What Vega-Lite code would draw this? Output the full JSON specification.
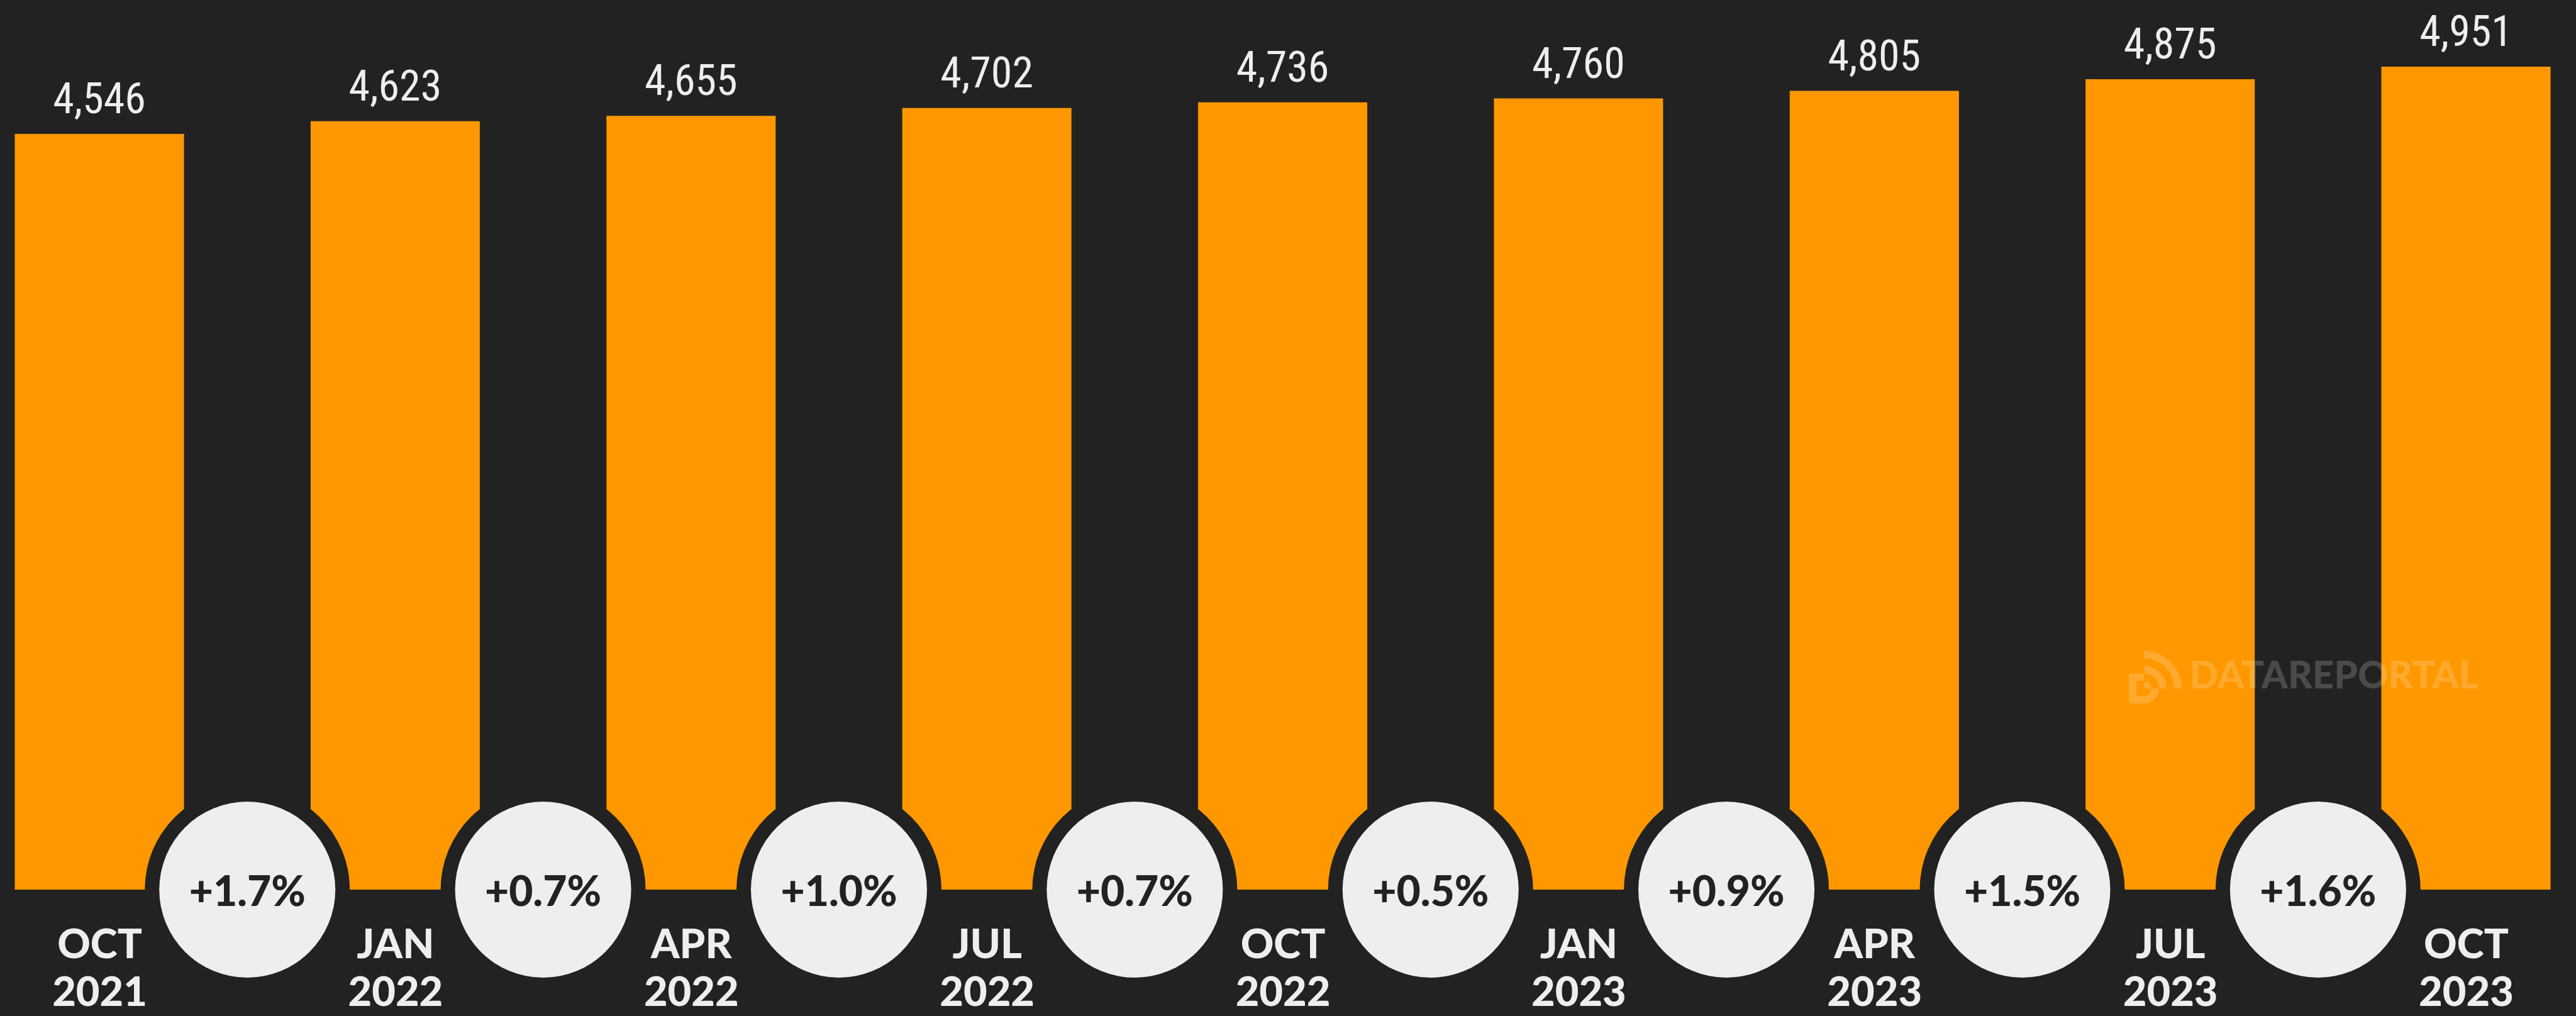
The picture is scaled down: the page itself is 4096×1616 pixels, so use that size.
{
"$schema":"https://vega.github.io/schema/vega-lite/v6.json",
"width":4096,"height":1415,
"autosize":{"type":"none"},
"padding":{"left":0,"top":0,"right":0,"bottom":201},
"background":"#222222",
"config":{"view":{"stroke":null}},
"datasets":{
"quarters":[
{"i":0,"period":"OCT 2021","users":4546,"label":"4,546"},
{"i":1,"period":"JAN 2022","users":4623,"label":"4,623"},
{"i":2,"period":"APR 2022","users":4655,"label":"4,655"},
{"i":3,"period":"JUL 2022","users":4702,"label":"4,702"},
{"i":4,"period":"OCT 2022","users":4736,"label":"4,736"},
{"i":5,"period":"JAN 2023","users":4760,"label":"4,760"},
{"i":6,"period":"APR 2023","users":4805,"label":"4,805"},
{"i":7,"period":"JUL 2023","users":4875,"label":"4,875"},
{"i":8,"period":"OCT 2023","users":4951,"label":"4,951"}],
"changes":[
{"mid":0.5,"base":0,"change":"+1.7%"},
{"mid":1.5,"base":0,"change":"+0.7%"},
{"mid":2.5,"base":0,"change":"+1.0%"},
{"mid":3.5,"base":0,"change":"+0.7%"},
{"mid":4.5,"base":0,"change":"+0.5%"},
{"mid":5.5,"base":0,"change":"+0.9%"},
{"mid":6.5,"base":0,"change":"+1.5%"},
{"mid":7.5,"base":0,"change":"+1.6%"}],
"brand":[{"x":7.066,"y":1210,"lx":6.95,"ly":1278,"name":"DATAREPORTAL"}]
},
"layer":[
{"data":{"name":"quarters"},
 "mark":{"type":"bar","size":269,"color":"#FF9800"},
 "encoding":{
  "x":{"field":"i","type":"quantitative","scale":{"domain":[-0.336,8.372],"nice":false,"zero":false,"padding":0},
   "axis":{"title":null,"values":[0,1,2,3,4,5,6,7,8],"domain":false,"ticks":false,"grid":false,"labelOverlap":false,"labelBound":false,"labelFlush":false,
    "labelExpr":"split(['OCT 2021','JAN 2022','APR 2022','JUL 2022','OCT 2022','JAN 2023','APR 2023','JUL 2023','OCT 2023'][datum.value],' ')",
    "labelFont":"Lato","labelFontWeight":900,"labelFontSize":65,"labelColor":"#EEEEEE","labelPadding":57,"labelLineHeight":76,"labelBaseline":"top"}},
  "y":{"field":"users","type":"quantitative","scale":{"domain":[0,5352],"nice":false},"axis":null}}},
{"data":{"name":"changes"},
 "mark":{"type":"point","filled":true,"shape":"circle","size":106276,"color":"#222222","opacity":1},
 "encoding":{"x":{"field":"mid","type":"quantitative","scale":{"domain":[-0.336,8.372],"nice":false,"zero":false,"padding":0}},
  "y":{"field":"base","type":"quantitative","axis":null,"scale":{"domain":[0,5352],"nice":false}}}},
{"data":{"name":"changes"},
 "mark":{"type":"point","filled":true,"shape":"circle","size":78400,"color":"#EEEEEE","opacity":1},
 "encoding":{"x":{"field":"mid","type":"quantitative","scale":{"domain":[-0.336,8.372],"nice":false,"zero":false,"padding":0}},
  "y":{"field":"base","type":"quantitative","axis":null,"scale":{"domain":[0,5352],"nice":false}}}},
{"data":{"name":"changes"},
 "mark":{"type":"text","font":"Lato","fontWeight":900,"fontSize":66,"color":"#222222","align":"center","baseline":"alphabetic","dy":26},
 "encoding":{"x":{"field":"mid","type":"quantitative","scale":{"domain":[-0.336,8.372],"nice":false,"zero":false,"padding":0}},
  "y":{"field":"base","type":"quantitative","axis":null,"scale":{"domain":[0,5352],"nice":false}},
  "text":{"field":"change"}}},
{"data":{"name":"quarters"},
 "mark":{"type":"text","font":"Roboto Condensed, Lato","fontSize":68,"color":"#EEEEEE","align":"center","baseline":"alphabetic","dy":-33},
 "encoding":{"x":{"field":"i","type":"quantitative","scale":{"domain":[-0.336,8.372],"nice":false,"zero":false,"padding":0}},
  "y":{"field":"users","type":"quantitative","axis":null,"scale":{"domain":[0,5352],"nice":false}},
  "text":{"field":"label"}}},
{"data":{"name":"brand"},
 "mark":{"type":"text","font":"Lato","fontWeight":900,"fontSize":60,"color":"#FFFFFF","opacity":0.18,"align":"left","baseline":"alphabetic"},
 "encoding":{"x":{"field":"x","type":"quantitative","scale":{"domain":[-0.336,8.372],"nice":false,"zero":false,"padding":0}},
  "y":{"field":"y","type":"quantitative","axis":null,"scale":{"domain":[0,5352],"nice":false}},
  "text":{"field":"name"}}},
{"data":{"name":"brand"},
 "mark":{"type":"point","filled":true,"size":7056,"color":"#FFFFFF","opacity":0.18,
  "shape":"M-.429 -1A1.429 1.429 0 0 1 1 .429H.714A1.143 1.143 0 0 0 -.429 -.714ZM-.429 -.429A.857 .857 0 0 1 .429 .429H.143A.571 .571 0 0 0 -.429 -.143ZM-.429 .143A.286 .286 0 0 1 -.143 .429H-.429ZM-1 -.143H-.429V.143H-.714V.714H-.429A.286 .286 0 0 0 -.143 .429H.143A.571 .571 0 0 1 -.429 1H-1Z"},
 "encoding":{"x":{"field":"lx","type":"quantitative","scale":{"domain":[-0.336,8.372],"nice":false,"zero":false,"padding":0}},
  "y":{"field":"ly","type":"quantitative","axis":null,"scale":{"domain":[0,5352],"nice":false}}}}
]
}
